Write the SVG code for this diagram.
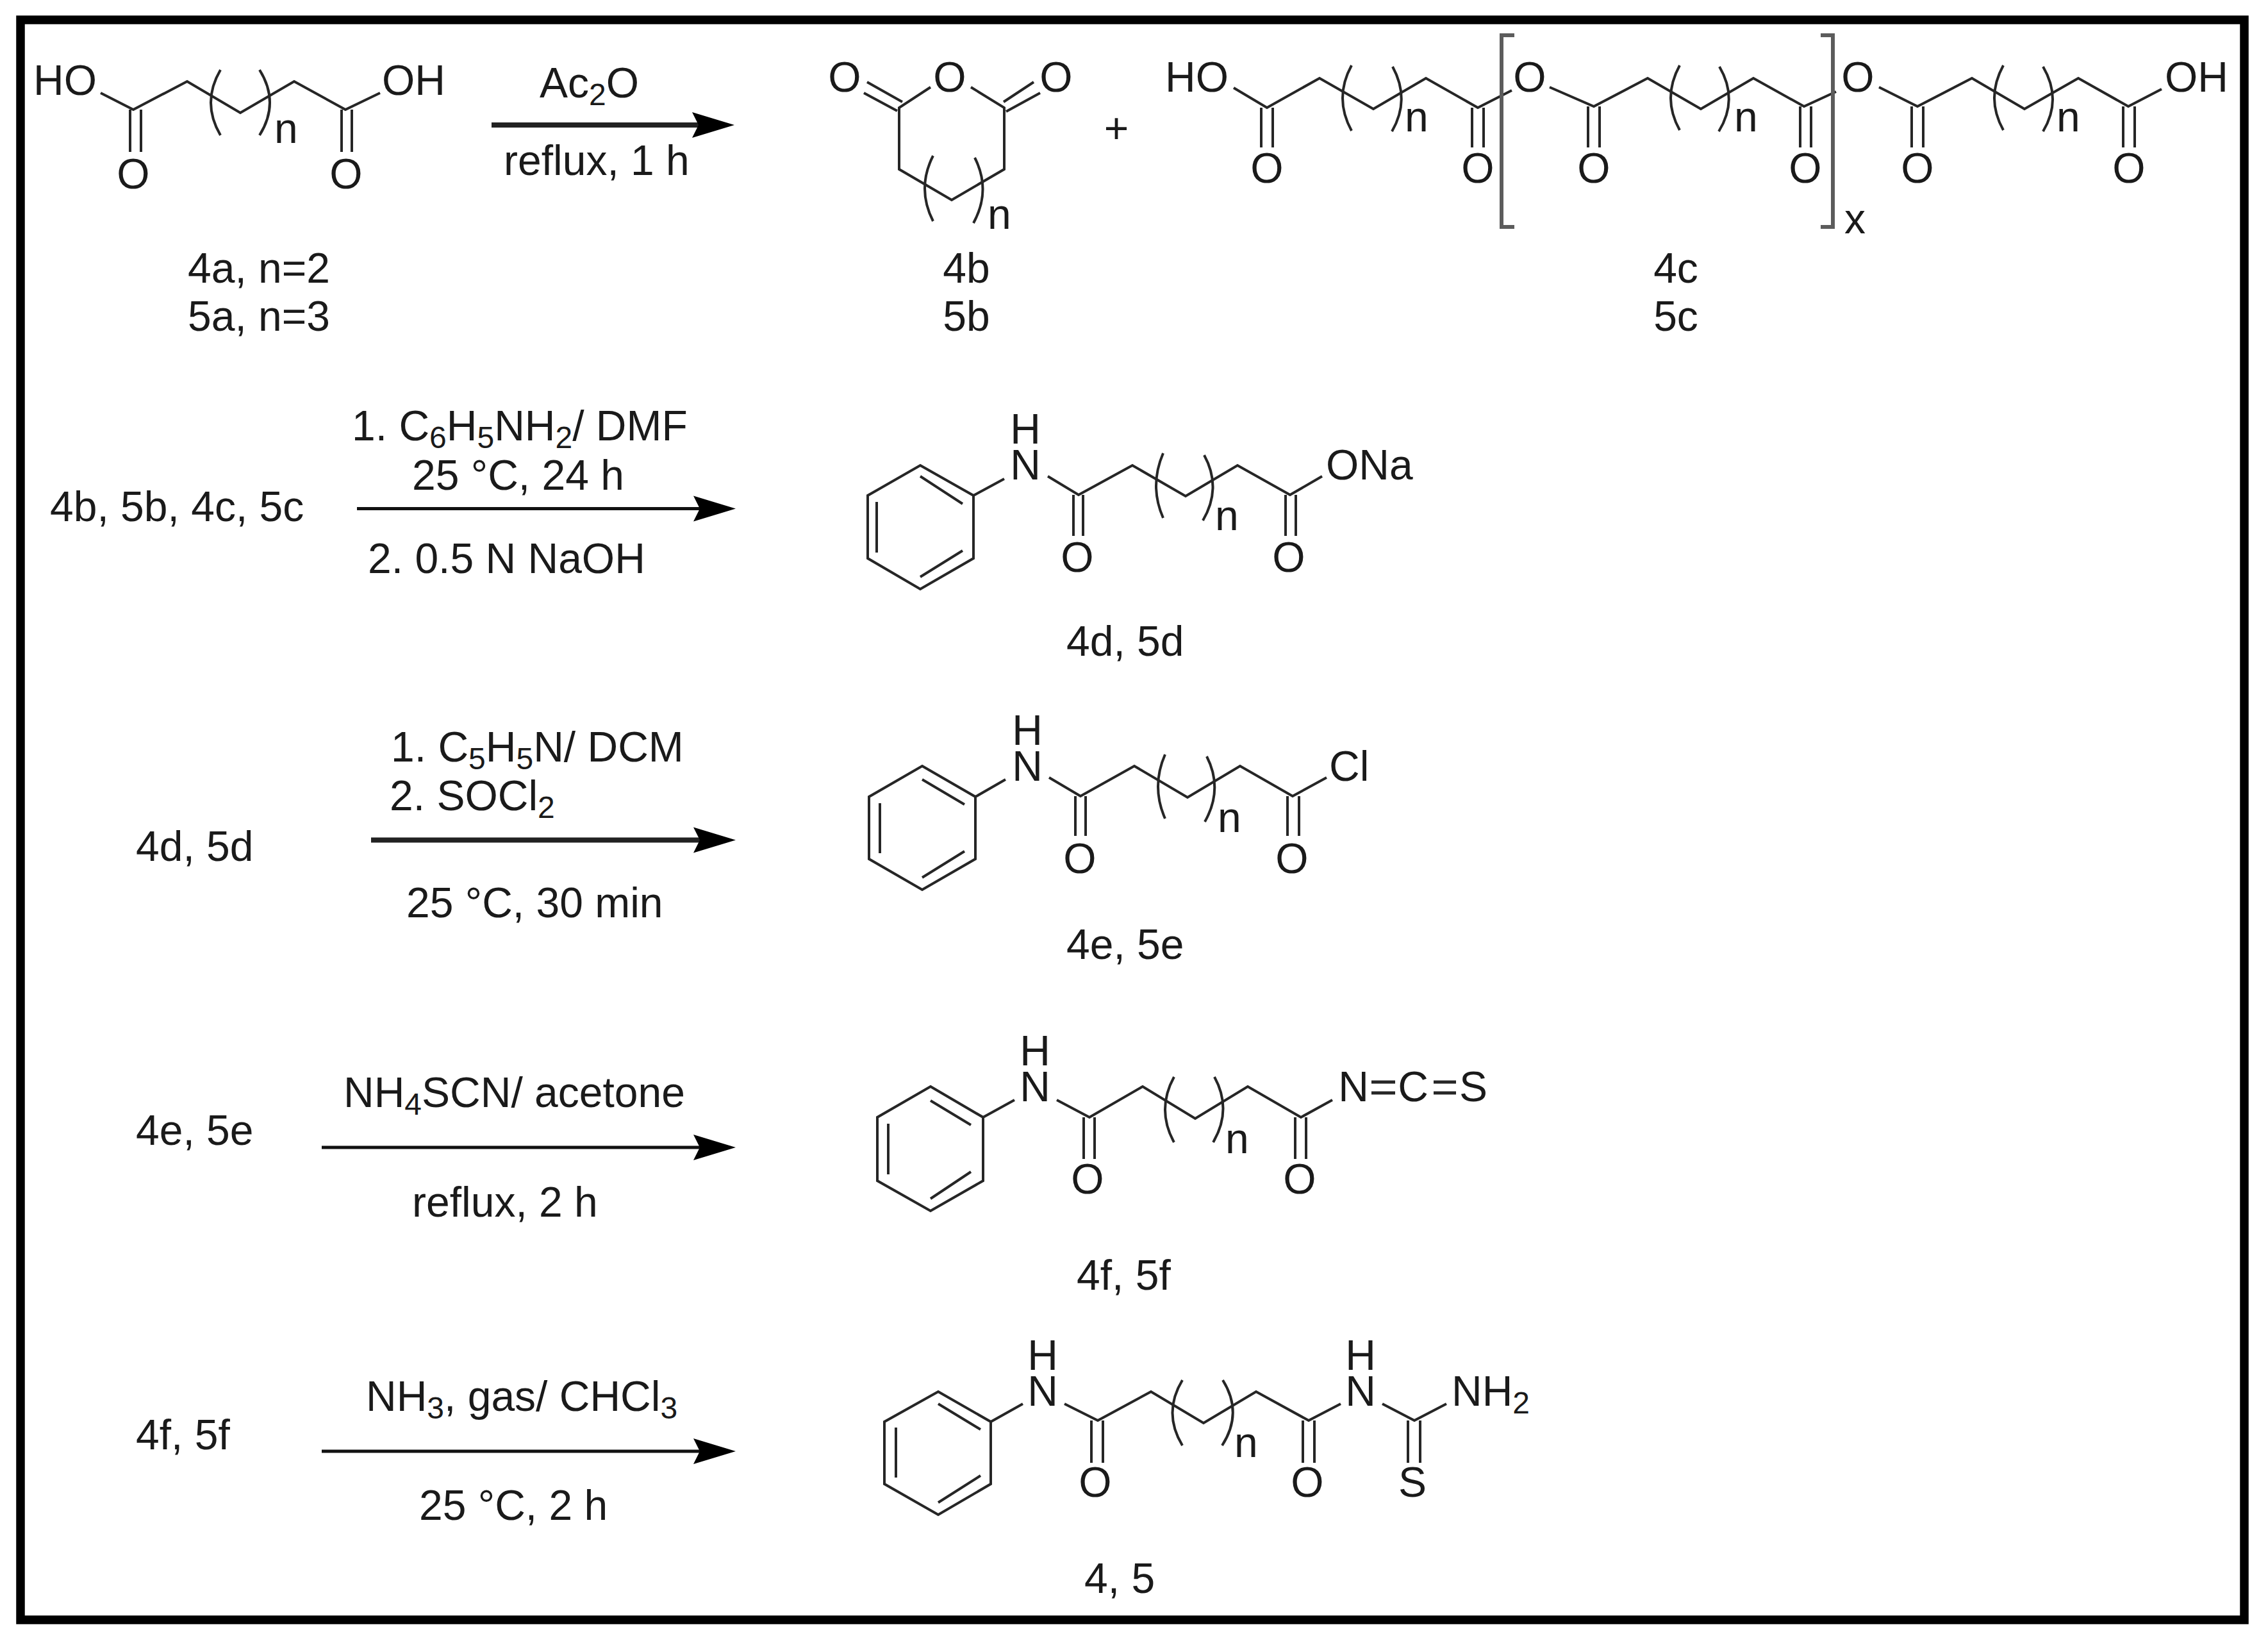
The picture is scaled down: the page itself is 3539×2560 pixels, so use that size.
<svg xmlns="http://www.w3.org/2000/svg" width="3539" height="2560" viewBox="0 0 3539 2560">
<style>
text{font-family:"Liberation Sans",Arial,sans-serif;font-size:66px;fill:#1a1a1a}
.s{font-size:48px}
.m{text-anchor:middle}
.b{fill:none;stroke:#262626;stroke-width:4}
.k{fill:none;stroke:#5c5c5c;stroke-width:6}
.a{fill:none;stroke:#111;stroke-width:5;marker-end:url(#head)}
.a2{fill:none;stroke:#222;stroke-width:8;marker-end:url(#head)}
</style>
<defs>
<marker id="head" markerUnits="userSpaceOnUse" markerWidth="66" markerHeight="40" refX="46" refY="20" orient="auto" overflow="visible"><path d="M0 0L66 20L0 40L10 20Z" fill="#000"/></marker>
</defs>
<rect width="3539" height="2560" fill="#fff"/>
<rect id="frame" x="32" y="31" width="3470" height="2496" fill="none" stroke="#000" stroke-width="13.5"/>

<g id="connectors">
<path class="a2" d="M767 195H1126"/>
<path class="a" d="M557 793.5H1128"/>
<path class="a2" d="M579 1310.5H1128"/>
<path class="a" d="M502 1790H1128"/>
<path class="a" d="M502 2264H1128"/>
</g>

<g id="cond1">
<text x="842" y="152">Ac<tspan class="s" dy="12">2</tspan><tspan dy="-12">O</tspan></text>
<text x="786" y="273">reflux, 1 h</text>
</g>
<g id="cond2">
<text x="549" y="687">1. C<tspan class="s" dy="12">6</tspan><tspan dy="-12">H</tspan><tspan class="s" dy="12">5</tspan><tspan dy="-12">NH</tspan><tspan class="s" dy="12">2</tspan><tspan dy="-12">/ DMF</tspan></text>
<text x="643" y="764">25 °C, 24 h</text>
<text x="574" y="894">2. 0.5 N NaOH</text>
<text x="78" y="813">4b, 5b, 4c, 5c</text>
</g>
<g id="cond3">
<text x="610" y="1188">1. C<tspan class="s" dy="12">5</tspan><tspan dy="-12">H</tspan><tspan class="s" dy="12">5</tspan><tspan dy="-12">N/ DCM</tspan></text>
<text x="608" y="1264">2. SOCl<tspan class="s" dy="12">2</tspan></text>
<text x="212" y="1343">4d, 5d</text>
<text x="634" y="1431">25 °C, 30 min</text>
</g>
<g id="cond4">
<text x="536" y="1727">NH<tspan class="s" dy="12">4</tspan><tspan dy="-12">SCN/ acetone</tspan></text>
<text x="212" y="1786">4e, 5e</text>
<text x="643" y="1898">reflux, 2 h</text>
</g>
<g id="cond5">
<text x="571" y="2201">NH<tspan class="s" dy="12">3</tspan><tspan dy="-12">, gas/ CHCl</tspan><tspan class="s" dy="12">3</tspan></text>
<text x="212" y="2261">4f, 5f</text>
<text x="654" y="2371">25 °C, 2 h</text>
</g>

<g id="mol-4a">
<path class="b" d="M157 145L208 171L292 127L375 176L459 127L539 171L593 145"/>
<path class="b" d="M203 171V237M220 171V237M533 171V237M549 171V237"/>
<path class="b" d="M344 109Q314 160 344 211M405 109Q437 160 405 211"/>
<text x="52" y="148">HO</text><text x="596" y="148">OH</text>
<text class="m" x="208" y="294">O</text><text class="m" x="540" y="294">O</text>
<text x="428" y="223">n</text>
<text x="293" y="441">4a, n=2</text><text x="293" y="516">5a, n=3</text>
</g>

<g id="mol-4b">
<path class="b" d="M1452 136L1403 168V264L1485 312L1567 264V168L1515 136"/>
<path class="b" d="M1353 128L1408 159M1348 145L1400 173M1613 128L1566 159M1623 145L1570 174"/>
<path class="b" d="M1456 243Q1430 294 1456 345M1521 246Q1547 297 1519 348"/>
<text class="m" x="1318" y="143">O</text><text class="m" x="1482" y="143">O</text><text class="m" x="1648" y="143">O</text>
<text x="1541" y="357">n</text>
<text class="m" x="1508" y="441">4b</text><text class="m" x="1508" y="516">5b</text>
</g>

<text id="plus" class="m" x="1742" y="223">+</text>

<g id="mol-4c">
<path class="b" d="M1925 137L1977 168L2059 122L2143 170L2225 122L2306 168L2359 141"/>
<path class="b" d="M1968 168V230M1986 168V230M2297 168V230M2315 168V230"/>
<path class="b" d="M2109 102Q2081 153 2109 204M2173 104Q2201 155 2172 205"/>
<path class="b" d="M2418 136L2487 166L2571 122L2654 170L2736 122L2815 166L2865 143"/>
<path class="b" d="M2478 166V230M2496 166V230M2809 166V230M2826 166V230"/>
<path class="b" d="M2621 102Q2593 153 2621 203M2683 104Q2713 155 2682 205"/>
<path class="b" d="M2932 136L2992 166L3077 122L3159 170L3243 122L3321 166L3373 139"/>
<path class="b" d="M2983 166V230M3001 166V230M3313 166V230M3331 166V230"/>
<path class="b" d="M3126 102Q3098 153 3126 203M3188 104Q3218 155 3188 205"/>
<path class="k" d="M2363 55H2343V354H2363M2841 55H2860V354H2841"/>
<text x="1818" y="143">HO</text><text class="m" x="1977" y="285">O</text><text class="m" x="2306" y="285">O</text>
<text x="2192" y="205">n</text>
<text class="m" x="2387" y="143">O</text><text class="m" x="2487" y="285">O</text><text class="m" x="2817" y="285">O</text>
<text x="2706" y="205">n</text><text x="2878" y="364">x</text>
<text class="m" x="2899" y="143">O</text><text class="m" x="2992" y="285">O</text><text class="m" x="3322" y="285">O</text>
<text x="3209" y="205">n</text><text x="3378" y="143">OH</text>
<text class="m" x="2615" y="441">4c</text><text class="m" x="2615" y="516">5c</text>
</g>

<g id="mol-4d">
<path class="b" d="M1436 726L1519 773V871L1436 919L1354 871V773ZM1436 743L1502 786M1368 783V862M1436 900L1502 859"/>
<path class="b" d="M1519 773L1567 747M1635 743L1683 772L1767 726L1850 774L1931 726L2013 772L2063 743"/>
<path class="b" d="M1675 772V836M1690 772V836M2006 772V836M2022 772V836"/>
<path class="b" d="M1815 707Q1793 758 1815 808M1879 710Q1907 761 1877 812"/>
<text class="m"><tspan x="1600" y="692">H</tspan><tspan x="1600" y="748">N</tspan></text>
<text class="m" x="1681" y="892">O</text><text class="m" x="2011" y="892">O</text>
<text x="2069" y="748">ONa</text><text x="1896" y="827">n</text>
<text x="1664" y="1023">4d, 5d</text>
</g>

<g id="mol-4e">
<path class="b" d="M1439 1195L1522 1243V1340L1439 1388L1356 1340V1243ZM1439 1216L1505 1255M1373 1253V1331M1439 1369L1505 1328"/>
<path class="b" d="M1522 1243L1569 1216M1637 1213L1686 1242L1770 1195L1853 1244L1935 1195L2017 1242L2070 1213"/>
<path class="b" d="M1678 1242V1304M1694 1242V1304M2009 1242V1304M2027 1242V1304"/>
<path class="b" d="M1818 1177Q1796 1227 1818 1277M1883 1180Q1909 1231 1880 1282"/>
<text class="m"><tspan x="1603" y="1162">H</tspan><tspan x="1603" y="1218">N</tspan></text>
<text class="m" x="1685" y="1362">O</text><text class="m" x="2016" y="1362">O</text>
<text x="2074" y="1218">Cl</text><text x="1900" y="1298">n</text>
<text x="1664" y="1496">4e, 5e</text>
</g>

<g id="mol-4f">
<path class="b" d="M1452 1695L1534 1743V1842L1452 1889L1369 1842V1743ZM1452 1717L1515 1755M1386 1753V1832M1452 1870L1515 1828"/>
<path class="b" d="M1534 1743L1583 1716M1649 1716L1700 1743L1783 1695L1865 1745L1947 1695L2030 1743L2079 1716"/>
<path class="b" d="M1691 1743V1808M1708 1743V1808M2021 1743V1808M2038 1743V1808"/>
<path class="b" d="M1832 1680Q1804 1731 1832 1782M1895 1680Q1923 1731 1893 1782"/>
<path class="b" d="M2140 1688H2177M2140 1705H2177M2237 1688H2272M2237 1705H2272" style="stroke-width:5"/>
<text class="m"><tspan x="1615" y="1662">H</tspan><tspan x="1615" y="1718">N</tspan></text>
<text class="m" x="1697" y="1862">O</text><text class="m" x="2028" y="1862">O</text>
<text class="m" x="2112" y="1718">N</text><text class="m" x="2205" y="1718">C</text><text class="m" x="2299" y="1718">S</text>
<text x="1912" y="1799">n</text>
<text x="1680" y="2012">4f, 5f</text>
</g>

<g id="mol-4-5">
<path class="b" d="M1464 2171L1546 2218V2315L1464 2363L1380 2315V2218ZM1464 2190L1530 2230M1398 2227V2305M1464 2344L1530 2302"/>
<path class="b" d="M1546 2218L1596 2190M1661 2190L1713 2216L1796 2171L1878 2220L1960 2171L2042 2216L2092 2190M2157 2190L2207 2216L2257 2190"/>
<path class="b" d="M1703 2216V2282M1721 2216V2282M2033 2216V2282M2051 2216V2282M2197 2216V2282M2216 2216V2282"/>
<path class="b" d="M1845 2153Q1814 2204 1845 2255M1908 2153Q1940 2204 1907 2255"/>
<text class="m"><tspan x="1627" y="2137">H</tspan><tspan x="1627" y="2193">N</tspan></text>
<text class="m" x="1709" y="2335">O</text><text class="m" x="2040" y="2335">O</text>
<text class="m"><tspan x="2123" y="2137">H</tspan><tspan x="2123" y="2193">N</tspan></text>
<text class="m" x="2204" y="2335">S</text>
<text x="2265" y="2193">NH<tspan class="s" dy="12">2</tspan></text>
<text x="1926" y="2273">n</text>
<text x="1692" y="2485">4, 5</text>
</g>
</svg>
